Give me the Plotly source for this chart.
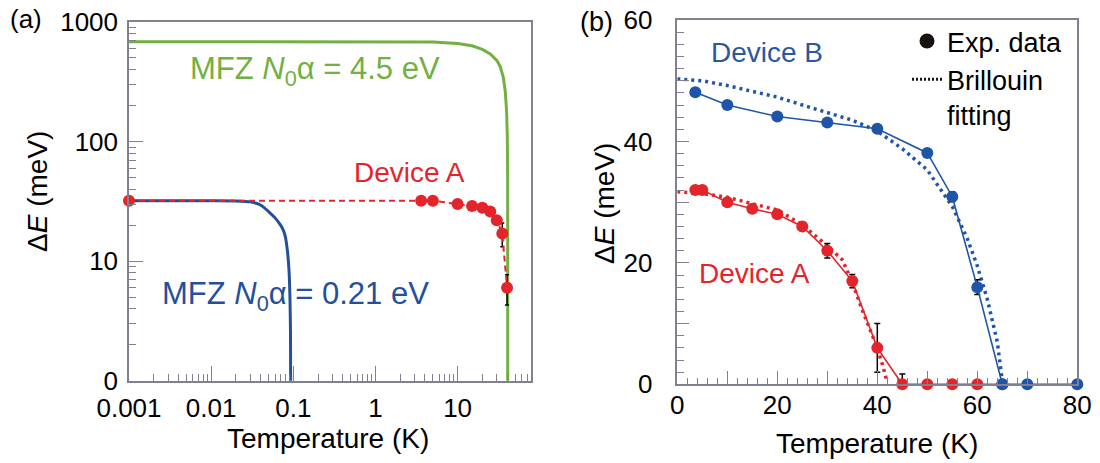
import plotly.graph_objects as go

# ---------------- data: panel (a) ----------------
T_mfz_green = [0.001, 1, 5, 10, 15, 20, 25, 30, 33, 36, 38, 39.5, 40.3, 40.7, 40.8]
E_mfz_green = [685, 685, 680, 662, 632, 590, 540, 478, 425, 345, 265, 180, 110, 50, 0]

T_mfz_blue = [0.001, 0.01, 0.02, 0.03, 0.04, 0.05, 0.06, 0.07, 0.076, 0.08, 0.085, 0.089, 0.091, 0.0925, 0.093]
E_mfz_blue = [32, 32, 31.9, 31.3, 29.5, 26, 23, 20, 18, 16, 12, 8, 5, 2.5, 0]

T_devA_log = [0.001, 3.6, 5, 10, 15, 20, 25, 30, 35, 40]
E_devA_log = [32, 32, 32, 30, 28.9, 28, 26, 22, 17, 6]
err_devA_log = [0, 0, 0, 0, 0, 0, 0, 0, 3.8, 1.7]

x_ticks_a = [0.001, 0.01, 0.1, 1, 10]
x_ticktext_a = ["0.001", "0.01", "0.1", "1", "10"]
y_ticks_a = [1, 10, 100, 1000]
y_ticktext_a = ["0", "10", "100", "1000"]

# ---------------- data: panel (b) ----------------
T_A = [3.6, 5, 10, 15, 20, 25, 30, 35, 40, 45, 50, 55, 60, 65]
E_A = [32.0, 32.0, 30.0, 28.9, 28.0, 26.0, 22.0, 17.0, 6.0, 0, 0, 0, 0, 0]
errA_plus = [0, 0, 0, 0, 0, 0, 1.2, 1.1, 4.0, 1.7, 0, 0, 0, 0]
errA_minus = [0, 0, 0, 0, 0, 0, 1.2, 1.1, 4.0, 0, 0, 0, 0, 0]

T_B = [3.6, 10, 20, 30, 40, 50, 55, 60, 65, 70, 80]
E_B = [48.1, 46.0, 44.1, 43.1, 42.1, 38.1, 30.9, 16.0, 0, 0, 0]
errB = [0, 0, 0, 0, 0, 0, 0.8, 1.2, 0, 0, 0]

T_fitA = [0, 5, 10, 15, 20, 25, 28, 30, 33, 35, 37, 38, 40, 41, 42]
E_fitA = [31.7, 31.4, 30.8, 29.8, 28.7, 26.3, 24.2, 22.8, 20.5, 16.8, 12.2, 10.0, 6.0, 3.3, 0.3]

T_fitB = [0, 5, 10, 15, 20, 25, 30, 35, 40, 45, 50, 55, 58, 60, 62, 64, 65]
E_fitB = [50.3, 50.0, 49.2, 48.2, 47.3, 46.0, 44.8, 43.5, 41.7, 38.8, 35.3, 29.3, 24.0, 19.5, 14.0, 7.0, 0.5]

x_ticks_b = [0, 10, 20, 30, 40, 50, 60, 70, 80]
x_ticktext_b = ["0", " ", "20", " ", "40", " ", "60", " ", "80"]
y_ticks_b = [0, 10, 20, 30, 40, 50, 60]
y_ticktext_b = ["0", " ", "20", " ", "40", " ", "60"]

# ---------------- style ----------------
FONT = "Liberation Sans, Arial, sans-serif"
GREEN = "#72b041"
BLUE_A = "#234f9c"
BLUE = "#1f55a8"
RED = "#e3242b"
AXC = "#808090"
W, H = 1100, 463
OFF = 8  # page body margin shifts the figure by this many pixels


def px(sx):
    return (sx - OFF) / W


def py(sy):
    return 1 - (sy - OFF) / H


def log_floor(values):
    # zero energies sit on the "0" baseline of the log axis (below its range -> clipped)
    return [v if v > 0 else 0.5 for v in values]


fig = go.Figure()

# panel (a)
fig.add_trace(go.Scatter(x=T_mfz_blue, y=log_floor(E_mfz_blue), mode="lines",
                         line=dict(color=BLUE_A, width=3, shape="spline", smoothing=0.6),
                         xaxis="x", yaxis="y", showlegend=False))
fig.add_trace(go.Scatter(x=T_mfz_green, y=log_floor(E_mfz_green), mode="lines",
                         line=dict(color=GREEN, width=3), xaxis="x", yaxis="y", showlegend=False))
fig.add_trace(go.Scatter(x=T_devA_log, y=E_devA_log, mode="lines+markers",
                         line=dict(color=RED, width=2, dash="6px,4px"),
                         marker=dict(color=RED, size=12),
                         error_y=dict(type="data", array=err_devA_log, color="black", thickness=1.5, width=2),
                         cliponaxis=False, xaxis="x", yaxis="y", showlegend=False))

# panel (b)
fig.add_trace(go.Scatter(x=T_fitA, y=E_fitA, mode="lines",
                         line=dict(color=RED, width=3.5, dash="3px,4px"),
                         xaxis="x2", yaxis="y2", showlegend=False))
fig.add_trace(go.Scatter(x=T_fitB, y=E_fitB, mode="lines",
                         line=dict(color=BLUE, width=3.5, dash="3px,4px"),
                         xaxis="x2", yaxis="y2", showlegend=False))
fig.add_trace(go.Scatter(x=T_A, y=E_A, mode="lines+markers",
                         line=dict(color=RED, width=1.6),
                         marker=dict(color=RED, size=12),
                         error_y=dict(type="data", symmetric=False, array=errA_plus, arrayminus=errA_minus,
                                      color="black", thickness=1.5, width=3),
                         cliponaxis=False, xaxis="x2", yaxis="y2", showlegend=False))
fig.add_trace(go.Scatter(x=T_B, y=E_B, mode="lines+markers",
                         line=dict(color=BLUE, width=1.6),
                         marker=dict(color=BLUE, size=12),
                         error_y=dict(type="data", array=errB, color="black", thickness=1.5, width=3),
                         cliponaxis=False, xaxis="x2", yaxis="y2", showlegend=False))

# legend entries
fig.add_trace(go.Scatter(x=[None], y=[None], mode="markers", name="Exp. data",
                         marker=dict(color="#1a1010", size=15), xaxis="x2", yaxis="y2"))
fig.add_trace(go.Scatter(x=[None], y=[None], mode="lines", name="Brillouin<br>fitting",
                         line=dict(color="#1a1010", width=3, dash="2px,2px"), xaxis="x2", yaxis="y2"))

tickfont = dict(family=FONT, size=26, color="black")

common = dict(showline=True, linecolor=AXC, linewidth=1.5, mirror=True, automargin=False,
              showgrid=False, zeroline=False, tickfont=tickfont, ticks="inside",
              tickwidth=1.3, tickcolor=AXC, tickmode="array", ticklabeloverflow="allow")

fig.update_layout(
    width=W, height=H,
    margin=dict(l=0, r=0, t=0, b=0, autoexpand=False),
    paper_bgcolor="white", plot_bgcolor="white",
    font=dict(family=FONT, color="black"),
    xaxis=dict(type="log", domain=[px(129), px(530.7)], range=[-3, 1.89], anchor="y",
               tickvals=x_ticks_a, ticktext=x_ticktext_a, ticklen=15,
               minor=dict(ticks="inside", ticklen=7, tickwidth=1.2, tickcolor=AXC, dtick="D1", showgrid=False),
               ticklabelstandoff=3, **common),
    yaxis=dict(type="log", domain=[py(380.7), py(22)], range=[0, 3], anchor="x",
               tickvals=y_ticks_a, ticktext=y_ticktext_a, ticklen=14,
               minor=dict(ticks="inside", ticklen=7, tickwidth=1.2, tickcolor=AXC, dtick="D1", showgrid=False),
               ticklabelstandoff=4, **common),
    xaxis2=dict(domain=[px(677.3), px(1077.3)], range=[0, 80], anchor="y2",
                tickvals=x_ticks_b, ticktext=x_ticktext_b, ticklen=14,
                minor=dict(ticks="inside", ticklen=7, tickwidth=1.2, tickcolor=AXC, dtick=2, showgrid=False),
                ticklabelstandoff=-3, **common),
    yaxis2=dict(domain=[py(384.3), py(20)], range=[0, 60], anchor="x2",
                tickvals=y_ticks_b, ticktext=y_ticktext_b, ticklen=12,
                minor=dict(ticks="inside", ticklen=7, tickwidth=1.2, tickcolor=AXC, dtick=2, showgrid=False),
                ticklabelstandoff=18, **common),
    legend=dict(x=px(1068), y=py(17), xanchor="right", yanchor="top", valign="top",
                font=dict(family=FONT, size=27, color="black"),
                bgcolor="rgba(0,0,0,0)", itemwidth=30, tracegroupgap=0),
)


def txt(sx, sy, text, size, color="black", angle=0, xanchor="center"):
    return dict(x=px(sx), y=py(sy), xref="paper", yref="paper", text=text,
                showarrow=False, textangle=angle, xanchor=xanchor, yanchor="middle",
                font=dict(family=FONT, size=size, color=color))


ann = [
    # tick label "100" hanging past the end of the log axis
    dict(x=2, y=py(407), xref="x", yref="paper", text="100", showarrow=False,
         font=tickfont, xanchor="center", yanchor="middle"),
    txt(8, 19, "(a)", 26, xanchor="left"),
    txt(596, 22, "(b)", 27),
    txt(328, 438, "Temperature (K)", 28),
    txt(877, 443, "Temperature (K)", 28),
    txt(37, 192, "Δ<i>E</i> (meV)", 28, angle=-90),
    txt(604, 204, "Δ<i>E</i> (meV)", 28, angle=-90),
    txt(315, 71, "MFZ <i>N</i><sub>0</sub>α = 4.5 eV", 31, GREEN),
    txt(295, 296, "MFZ <i>N</i><sub>0</sub>α = 0.21 eV", 31, BLUE_A),
    txt(409, 172, "Device A", 28, RED),
    txt(767, 52, "Device B", 28, "#2a57a0"),
    txt(754, 273, "Device A", 28, RED),
]
fig.update_layout(annotations=ann)

fig.write_html("out.html")
